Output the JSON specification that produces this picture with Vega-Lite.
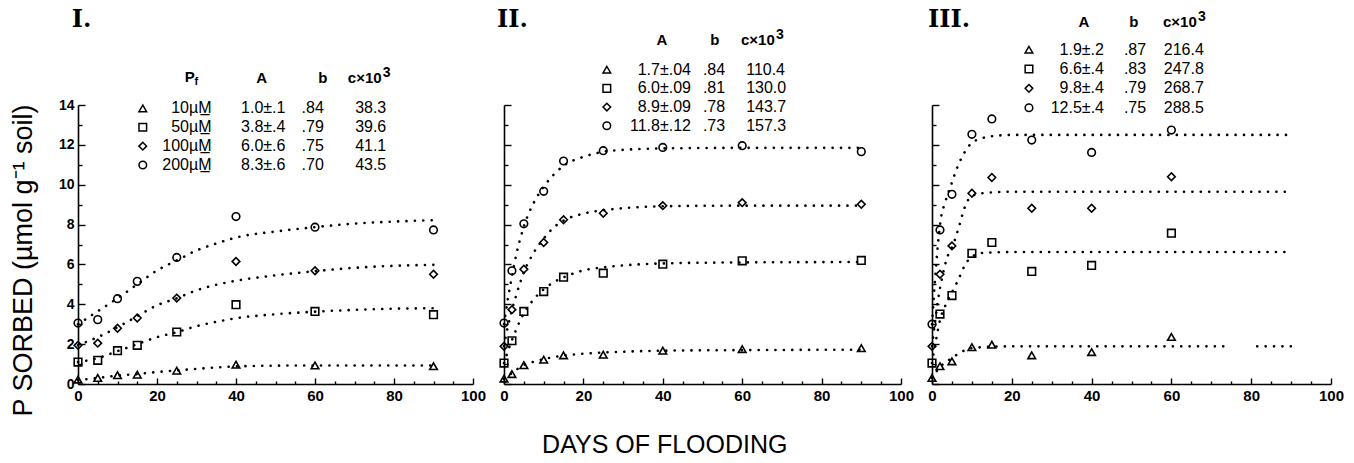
{
  "$schema": "https://vega.github.io/schema/vega-lite/v6.json",
  "padding": {"left": 8, "top": 7, "right": 5, "bottom": 5},
  "background": "white",
  "bounds": "flush",
  "spacing": 31,
  "config": {
    "view": {"stroke": null},
    "axis": {"domainColor": "black", "domainWidth": 1.6, "tickColor": "black", "tickWidth": 1.4, "labelColor": "black", "grid": false, "labelFlush": false, "labelOverlap": false, "labelFont": "Liberation Sans Narrow, Liberation Sans", "labelFontWeight": "bold"}
  },
  "datasets": {
    "pts": [
      {"panel":"I","s":"c","day":0,"v":3.06},{"panel":"I","s":"c","day":5,"v":3.23},{"panel":"I","s":"c","day":10,"v":4.28},{"panel":"I","s":"c","day":15,"v":5.15},{"panel":"I","s":"c","day":25,"v":6.35},{"panel":"I","s":"c","day":40,"v":8.4},{"panel":"I","s":"c","day":60,"v":7.87},{"panel":"I","s":"c","day":90,"v":7.73},
      {"panel":"I","s":"d","day":0,"v":1.94},{"panel":"I","s":"d","day":5,"v":2.05},{"panel":"I","s":"d","day":10,"v":2.8},{"panel":"I","s":"d","day":15,"v":3.31},{"panel":"I","s":"d","day":25,"v":4.31},{"panel":"I","s":"d","day":40,"v":6.15},{"panel":"I","s":"d","day":60,"v":5.68},{"panel":"I","s":"d","day":90,"v":5.51},
      {"panel":"I","s":"s","day":0,"v":1.1},{"panel":"I","s":"s","day":5,"v":1.19},{"panel":"I","s":"s","day":10,"v":1.67},{"panel":"I","s":"s","day":15,"v":1.94},{"panel":"I","s":"s","day":25,"v":2.61},{"panel":"I","s":"s","day":40,"v":3.98},{"panel":"I","s":"s","day":60,"v":3.64},{"panel":"I","s":"s","day":90,"v":3.48},
      {"panel":"I","s":"t","day":0,"v":0.22},{"panel":"I","s":"t","day":5,"v":0.3},{"panel":"I","s":"t","day":10,"v":0.44},{"panel":"I","s":"t","day":15,"v":0.47},{"panel":"I","s":"t","day":25,"v":0.67},{"panel":"I","s":"t","day":40,"v":0.97},{"panel":"I","s":"t","day":60,"v":0.93},{"panel":"I","s":"t","day":90,"v":0.89},
      {"panel":"II","s":"c","day":0,"v":3.06},{"panel":"II","s":"c","day":2,"v":5.68},{"panel":"II","s":"c","day":5,"v":8.04},{"panel":"II","s":"c","day":10,"v":9.67},{"panel":"II","s":"c","day":15,"v":11.19},{"panel":"II","s":"c","day":25,"v":11.71},{"panel":"II","s":"c","day":40,"v":11.87},{"panel":"II","s":"c","day":60,"v":11.96},{"panel":"II","s":"c","day":90,"v":11.66},
      {"panel":"II","s":"d","day":0,"v":1.89},{"panel":"II","s":"d","day":2,"v":3.73},{"panel":"II","s":"d","day":5,"v":5.76},{"panel":"II","s":"d","day":10,"v":7.1},{"panel":"II","s":"d","day":15,"v":8.24},{"panel":"II","s":"d","day":25,"v":8.57},{"panel":"II","s":"d","day":40,"v":8.95},{"panel":"II","s":"d","day":60,"v":9.1},{"panel":"II","s":"d","day":90,"v":9.02},
      {"panel":"II","s":"s","day":0,"v":1.05},{"panel":"II","s":"s","day":2,"v":2.17},{"panel":"II","s":"s","day":5,"v":3.64},{"panel":"II","s":"s","day":10,"v":4.64},{"panel":"II","s":"s","day":15,"v":5.36},{"panel":"II","s":"s","day":25,"v":5.56},{"panel":"II","s":"s","day":40,"v":6.01},{"panel":"II","s":"s","day":60,"v":6.18},{"panel":"II","s":"s","day":90,"v":6.2},
      {"panel":"II","s":"t","day":0,"v":0.27},{"panel":"II","s":"t","day":2,"v":0.5},{"panel":"II","s":"t","day":5,"v":0.94},{"panel":"II","s":"t","day":10,"v":1.22},{"panel":"II","s":"t","day":15,"v":1.44},{"panel":"II","s":"t","day":25,"v":1.47},{"panel":"II","s":"t","day":40,"v":1.67},{"panel":"II","s":"t","day":60,"v":1.75},{"panel":"II","s":"t","day":90,"v":1.8},
      {"panel":"III","s":"c","day":0,"v":3.0},{"panel":"III","s":"c","day":2,"v":7.73},{"panel":"III","s":"c","day":5,"v":9.52},{"panel":"III","s":"c","day":10,"v":12.53},{"panel":"III","s":"c","day":15,"v":13.3},{"panel":"III","s":"c","day":25,"v":12.24},{"panel":"III","s":"c","day":40,"v":11.62},{"panel":"III","s":"c","day":60,"v":12.74},
      {"panel":"III","s":"d","day":0,"v":1.89},{"panel":"III","s":"d","day":2,"v":5.51},{"panel":"III","s":"d","day":5,"v":6.93},{"panel":"III","s":"d","day":10,"v":9.57},{"panel":"III","s":"d","day":15,"v":10.36},{"panel":"III","s":"d","day":25,"v":8.82},{"panel":"III","s":"d","day":40,"v":8.82},{"panel":"III","s":"d","day":60,"v":10.4},
      {"panel":"III","s":"s","day":0,"v":1.05},{"panel":"III","s":"s","day":2,"v":3.51},{"panel":"III","s":"s","day":5,"v":4.44},{"panel":"III","s":"s","day":10,"v":6.56},{"panel":"III","s":"s","day":15,"v":7.1},{"panel":"III","s":"s","day":25,"v":5.65},{"panel":"III","s":"s","day":40,"v":5.95},{"panel":"III","s":"s","day":60,"v":7.57},
      {"panel":"III","s":"t","day":0,"v":0.3},{"panel":"III","s":"t","day":2,"v":0.89},{"panel":"III","s":"t","day":5,"v":1.14},{"panel":"III","s":"t","day":10,"v":1.85},{"panel":"III","s":"t","day":15,"v":1.97},{"panel":"III","s":"t","day":25,"v":1.44},{"panel":"III","s":"t","day":40,"v":1.6},{"panel":"III","s":"t","day":60,"v":2.36}
    ],
    "fit": [
      {"panel":"I","s":"c","g":1,"day":0,"v":3.0},{"panel":"I","s":"c","g":1,"day":5,"v":3.65},{"panel":"I","s":"c","g":1,"day":10,"v":4.3},{"panel":"I","s":"c","g":1,"day":15,"v":5.0},{"panel":"I","s":"c","g":1,"day":20,"v":5.7},{"panel":"I","s":"c","g":1,"day":25,"v":6.2},{"panel":"I","s":"c","g":1,"day":30,"v":6.7},{"panel":"I","s":"c","g":1,"day":35,"v":7.05},{"panel":"I","s":"c","g":1,"day":40,"v":7.35},{"panel":"I","s":"c","g":1,"day":50,"v":7.65},{"panel":"I","s":"c","g":1,"day":60,"v":7.87},{"panel":"I","s":"c","g":1,"day":70,"v":8.05},{"panel":"I","s":"c","g":1,"day":80,"v":8.15},{"panel":"I","s":"c","g":1,"day":90,"v":8.22},
      {"panel":"I","s":"d","g":1,"day":0,"v":1.95},{"panel":"I","s":"d","g":1,"day":5,"v":2.35},{"panel":"I","s":"d","g":1,"day":10,"v":2.85},{"panel":"I","s":"d","g":1,"day":15,"v":3.4},{"panel":"I","s":"d","g":1,"day":20,"v":3.95},{"panel":"I","s":"d","g":1,"day":25,"v":4.3},{"panel":"I","s":"d","g":1,"day":30,"v":4.7},{"panel":"I","s":"d","g":1,"day":35,"v":4.98},{"panel":"I","s":"d","g":1,"day":40,"v":5.18},{"panel":"I","s":"d","g":1,"day":50,"v":5.45},{"panel":"I","s":"d","g":1,"day":60,"v":5.66},{"panel":"I","s":"d","g":1,"day":70,"v":5.83},{"panel":"I","s":"d","g":1,"day":80,"v":5.93},{"panel":"I","s":"d","g":1,"day":90,"v":5.98},
      {"panel":"I","s":"s","g":1,"day":0,"v":1.1},{"panel":"I","s":"s","g":1,"day":5,"v":1.3},{"panel":"I","s":"s","g":1,"day":10,"v":1.65},{"panel":"I","s":"s","g":1,"day":15,"v":2.0},{"panel":"I","s":"s","g":1,"day":20,"v":2.35},{"panel":"I","s":"s","g":1,"day":25,"v":2.6},{"panel":"I","s":"s","g":1,"day":30,"v":2.9},{"panel":"I","s":"s","g":1,"day":35,"v":3.12},{"panel":"I","s":"s","g":1,"day":40,"v":3.3},{"panel":"I","s":"s","g":1,"day":50,"v":3.5},{"panel":"I","s":"s","g":1,"day":60,"v":3.63},{"panel":"I","s":"s","g":1,"day":70,"v":3.72},{"panel":"I","s":"s","g":1,"day":80,"v":3.78},{"panel":"I","s":"s","g":1,"day":90,"v":3.8},
      {"panel":"I","s":"t","g":1,"day":0,"v":0.2},{"panel":"I","s":"t","g":1,"day":5,"v":0.3},{"panel":"I","s":"t","g":1,"day":10,"v":0.42},{"panel":"I","s":"t","g":1,"day":15,"v":0.5},{"panel":"I","s":"t","g":1,"day":20,"v":0.6},{"panel":"I","s":"t","g":1,"day":25,"v":0.68},{"panel":"I","s":"t","g":1,"day":30,"v":0.76},{"panel":"I","s":"t","g":1,"day":40,"v":0.88},{"panel":"I","s":"t","g":1,"day":50,"v":0.92},{"panel":"I","s":"t","g":1,"day":60,"v":0.93},{"panel":"I","s":"t","g":1,"day":90,"v":0.93},
      {"panel":"II","s":"c","g":1,"day":0,"v":3.0},{"panel":"II","s":"c","g":1,"day":1,"v":4.3},{"panel":"II","s":"c","g":1,"day":2,"v":5.4},{"panel":"II","s":"c","g":1,"day":3,"v":6.4},{"panel":"II","s":"c","g":1,"day":5,"v":7.9},{"panel":"II","s":"c","g":1,"day":7.5,"v":9.1},{"panel":"II","s":"c","g":1,"day":10,"v":9.9},{"panel":"II","s":"c","g":1,"day":12.5,"v":10.5},{"panel":"II","s":"c","g":1,"day":15,"v":10.95},{"panel":"II","s":"c","g":1,"day":20,"v":11.4},{"panel":"II","s":"c","g":1,"day":25,"v":11.65},{"panel":"II","s":"c","g":1,"day":30,"v":11.75},{"panel":"II","s":"c","g":1,"day":40,"v":11.82},{"panel":"II","s":"c","g":1,"day":60,"v":11.85},{"panel":"II","s":"c","g":1,"day":90,"v":11.85},
      {"panel":"II","s":"d","g":1,"day":0,"v":1.9},{"panel":"II","s":"d","g":1,"day":1,"v":2.9},{"panel":"II","s":"d","g":1,"day":2,"v":3.7},{"panel":"II","s":"d","g":1,"day":3,"v":4.4},{"panel":"II","s":"d","g":1,"day":5,"v":5.6},{"panel":"II","s":"d","g":1,"day":7.5,"v":6.6},{"panel":"II","s":"d","g":1,"day":10,"v":7.3},{"panel":"II","s":"d","g":1,"day":12.5,"v":7.85},{"panel":"II","s":"d","g":1,"day":15,"v":8.2},{"panel":"II","s":"d","g":1,"day":20,"v":8.55},{"panel":"II","s":"d","g":1,"day":25,"v":8.72},{"panel":"II","s":"d","g":1,"day":30,"v":8.82},{"panel":"II","s":"d","g":1,"day":40,"v":8.92},{"panel":"II","s":"d","g":1,"day":60,"v":8.95},{"panel":"II","s":"d","g":1,"day":90,"v":8.95},
      {"panel":"II","s":"s","g":1,"day":0,"v":1.05},{"panel":"II","s":"s","g":1,"day":1,"v":1.65},{"panel":"II","s":"s","g":1,"day":2,"v":2.2},{"panel":"II","s":"s","g":1,"day":3,"v":2.7},{"panel":"II","s":"s","g":1,"day":5,"v":3.55},{"panel":"II","s":"s","g":1,"day":7.5,"v":4.25},{"panel":"II","s":"s","g":1,"day":10,"v":4.75},{"panel":"II","s":"s","g":1,"day":12.5,"v":5.1},{"panel":"II","s":"s","g":1,"day":15,"v":5.35},{"panel":"II","s":"s","g":1,"day":20,"v":5.7},{"panel":"II","s":"s","g":1,"day":25,"v":5.85},{"panel":"II","s":"s","g":1,"day":30,"v":5.95},{"panel":"II","s":"s","g":1,"day":40,"v":6.05},{"panel":"II","s":"s","g":1,"day":60,"v":6.1},{"panel":"II","s":"s","g":1,"day":90,"v":6.12},
      {"panel":"II","s":"t","g":1,"day":0,"v":0.25},{"panel":"II","s":"t","g":1,"day":2,"v":0.55},{"panel":"II","s":"t","g":1,"day":5,"v":0.95},{"panel":"II","s":"t","g":1,"day":7.5,"v":1.12},{"panel":"II","s":"t","g":1,"day":10,"v":1.25},{"panel":"II","s":"t","g":1,"day":15,"v":1.42},{"panel":"II","s":"t","g":1,"day":20,"v":1.52},{"panel":"II","s":"t","g":1,"day":25,"v":1.58},{"panel":"II","s":"t","g":1,"day":30,"v":1.62},{"panel":"II","s":"t","g":1,"day":40,"v":1.67},{"panel":"II","s":"t","g":1,"day":60,"v":1.7},{"panel":"II","s":"t","g":1,"day":90,"v":1.72},
      {"panel":"III","s":"c","g":1,"day":0,"v":3.0},{"panel":"III","s":"c","g":1,"day":0.6,"v":4.8},{"panel":"III","s":"c","g":1,"day":1.25,"v":6.5},{"panel":"III","s":"c","g":1,"day":2.4,"v":8.5},{"panel":"III","s":"c","g":1,"day":3.1,"v":9.0},{"panel":"III","s":"c","g":1,"day":4.8,"v":10.0},{"panel":"III","s":"c","g":1,"day":6.4,"v":10.9},{"panel":"III","s":"c","g":1,"day":8.1,"v":11.6},{"panel":"III","s":"c","g":1,"day":10,"v":12.1},{"panel":"III","s":"c","g":1,"day":14,"v":12.4},{"panel":"III","s":"c","g":1,"day":20,"v":12.5},{"panel":"III","s":"c","g":1,"day":90,"v":12.5},
      {"panel":"III","s":"d","g":1,"day":0,"v":1.9},{"panel":"III","s":"d","g":1,"day":0.7,"v":3.0},{"panel":"III","s":"d","g":1,"day":1.5,"v":4.2},{"panel":"III","s":"d","g":1,"day":2.5,"v":5.3},{"panel":"III","s":"d","g":1,"day":3.5,"v":6.15},{"panel":"III","s":"d","g":1,"day":5.6,"v":7.15},{"panel":"III","s":"d","g":1,"day":6.9,"v":7.98},{"panel":"III","s":"d","g":1,"day":8.1,"v":8.8},{"panel":"III","s":"d","g":1,"day":10,"v":9.45},{"panel":"III","s":"d","g":1,"day":14,"v":9.6},{"panel":"III","s":"d","g":1,"day":20,"v":9.65},{"panel":"III","s":"d","g":1,"day":90,"v":9.65},
      {"panel":"III","s":"s","g":1,"day":0,"v":1.05},{"panel":"III","s":"s","g":1,"day":1,"v":2.2},{"panel":"III","s":"s","g":1,"day":2,"v":3.2},{"panel":"III","s":"s","g":1,"day":3.5,"v":4.0},{"panel":"III","s":"s","g":1,"day":5,"v":4.6},{"panel":"III","s":"s","g":1,"day":6.4,"v":5.15},{"panel":"III","s":"s","g":1,"day":8.1,"v":5.9},{"panel":"III","s":"s","g":1,"day":10,"v":6.4},{"panel":"III","s":"s","g":1,"day":13,"v":6.58},{"panel":"III","s":"s","g":1,"day":20,"v":6.62},{"panel":"III","s":"s","g":1,"day":90,"v":6.62},
      {"panel":"III","s":"t","g":1,"day":0,"v":0.3},{"panel":"III","s":"t","g":1,"day":2,"v":0.85},{"panel":"III","s":"t","g":1,"day":5,"v":1.3},{"panel":"III","s":"t","g":1,"day":7.5,"v":1.62},{"panel":"III","s":"t","g":1,"day":10,"v":1.8},{"panel":"III","s":"t","g":1,"day":15,"v":1.87},{"panel":"III","s":"t","g":1,"day":20,"v":1.89},{"panel":"III","s":"t","g":1,"day":74.5,"v":1.89},
      {"panel":"III","s":"t","g":2,"day":81.5,"v":1.89},{"panel":"III","s":"t","g":2,"day":90,"v":1.89}
    ],
    "tbl": [
      {"panel":"I","s":"t","pf":"10µM̲","A":"1.0±.1","b":".84","c":"38.3"},
      {"panel":"I","s":"s","pf":"50µM̲","A":"3.8±.4","b":".79","c":"39.6"},
      {"panel":"I","s":"d","pf":"100µM̲","A":"6.0±.6","b":".75","c":"41.1"},
      {"panel":"I","s":"c","pf":"200µM̲","A":"8.3±.6","b":".70","c":"43.5"},
      {"panel":"II","s":"t","A":"1.7±.04","b":".84","c":"110.4"},
      {"panel":"II","s":"s","A":"6.0±.09","b":".81","c":"130.0"},
      {"panel":"II","s":"d","A":"8.9±.09","b":".78","c":"143.7"},
      {"panel":"II","s":"c","A":"11.8±.12","b":".73","c":"157.3"},
      {"panel":"III","s":"t","A":"1.9±.2","b":".87","c":"216.4"},
      {"panel":"III","s":"s","A":"6.6±.4","b":".83","c":"247.8"},
      {"panel":"III","s":"d","A":"9.8±.4","b":".79","c":"268.7"},
      {"panel":"III","s":"c","A":"12.5±.4","b":".75","c":"288.5"}
    ],
    "hdr": [
      {"panel":"I","col":"n","t":"I."},{"panel":"I","col":"P","t":"P"},{"panel":"I","col":"f","t":"f"},{"panel":"I","col":"A","t":"A"},{"panel":"I","col":"b","t":"b"},{"panel":"I","col":"c","t":"c×10"},{"panel":"I","col":"e","t":"3"},
      {"panel":"II","col":"n","t":"II."},{"panel":"II","col":"A","t":"A"},{"panel":"II","col":"b","t":"b"},{"panel":"II","col":"c","t":"c×10"},{"panel":"II","col":"e","t":"3"},{"panel":"II","col":"x","t":"DAYS OF FLOODING"},
      {"panel":"III","col":"n","t":"III."},{"panel":"III","col":"A","t":"A"},{"panel":"III","col":"b","t":"b"},{"panel":"III","col":"c","t":"c×10"},{"panel":"III","col":"e","t":"3"}
    ]
  },
  "hconcat": [
    {
      "width": 395, "height": 279,
      "resolve": {"scale": {"x": "independent", "y": "independent"}},
      "layer": [
        {"data": {"name": "fit"}, "transform": [{"filter": "datum.panel === 'I'"}],
         "mark": {"type": "line", "interpolate": "monotone", "strokeDash": [0.1, 8.3], "strokeCap": "round", "strokeWidth": 2.6, "color": "black"},
         "encoding": {
           "x": {"field": "day", "type": "quantitative", "scale": {"domain": [0, 100], "nice": false},
                 "axis": {"orient": "bottom", "values": [0,5,10,15,20,25,30,35,40,45,50,55,60,65,70,75,80,85,90,95,100], "tickSize": {"condition": {"test": "datum.value % 20 === 0", "value": -6}, "value": -3}, "labelExpr": "datum.value % 20 === 0 ? datum.label : ''", "labelFontSize": 15, "labelPadding": 10, "title": null}},
           "y": {"field": "v", "type": "quantitative", "scale": {"domain": [0, 14], "nice": false},
                 "axis": {"orient": "left", "values": [0,1,2,3,4,5,6,7,8,9,10,11,12,13,14], "tickSize": {"condition": {"test": "datum.value % 2 === 0", "value": -7}, "value": -4}, "labelExpr": "datum.value % 2 === 0 ? datum.label : ''", "labelFontSize": 14, "labelPadding": 11,
                          "title": "P  SORBED (µmol g⁻¹ soil)", "titleFont": "Liberation Sans", "titleFontSize": 27, "titleFontWeight": "normal", "titleColor": "black", "titleX": -47, "titleY": 155, "titleAlign": "center", "titleBaseline": "alphabetic", "titleAngle": 270}},
           "detail": [{"field": "s", "type": "nominal"}, {"field": "g", "type": "nominal"}]
         }},
        {"data": {"name": "pts"}, "transform": [{"filter": "datum.panel === 'I'"}],
         "mark": {"type": "point", "filled": false, "strokeWidth": 1.6, "color": "black", "opacity": 1},
         "encoding": {
           "x": {"field": "day", "type": "quantitative", "scale": {"domain": [0, 100], "nice": false}, "axis": null},
           "y": {"field": "v", "type": "quantitative", "scale": {"domain": [0, 14], "nice": false}, "axis": null},
           "shape": {"field": "s", "type": "nominal", "scale": {"domain": ["t","s","d","c"], "range": ["triangle-up","square","diamond","circle"]}, "legend": null},
           "size": {"field": "s", "type": "nominal", "scale": {"domain": ["t","s","d","c"], "range": [58,58,72,46]}, "legend": null}
         }},
        {"data": {"name": "tbl"}, "transform": [{"filter": "datum.panel === 'I'"}],
         "mark": {"type": "point", "filled": false, "strokeWidth": 1.5, "color": "black", "opacity": 1},
         "encoding": {
           "x": {"datum": 16.4, "type": "quantitative", "scale": {"domain": [0, 100], "nice": false}, "axis": null},
           "y": {"field": "s", "type": "ordinal", "scale": {"type": "point", "domain": ["t","s","d","c"], "range": [3.4, 60], "padding": 0}, "axis": null},
           "shape": {"field": "s", "type": "nominal", "scale": {"domain": ["t","s","d","c"], "range": ["triangle-up","square","diamond","circle"]}, "legend": null},
           "size": {"field": "s", "type": "nominal", "scale": {"domain": ["t","s","d","c"], "range": [58,58,72,46]}, "legend": null}
         }},
        {"data": {"name": "tbl"}, "transform": [{"filter": "datum.panel === 'I'"}],
         "mark": {"type": "text", "font": "Liberation Sans", "fontSize": 16, "align": "right", "baseline": "middle", "color": "black"},
         "encoding": {
           "x": {"datum": 33.8, "type": "quantitative", "scale": {"domain": [0, 100], "nice": false}, "axis": null},
           "y": {"field": "s", "type": "ordinal", "scale": {"type": "point", "domain": ["t","s","d","c"], "range": [3.4, 60], "padding": 0}, "axis": null},
           "text": {"field": "pf"}
         }},
        {"data": {"name": "tbl"}, "transform": [{"filter": "datum.panel === 'I'"}],
         "mark": {"type": "text", "font": "Liberation Sans", "fontSize": 16, "align": "center", "baseline": "middle", "color": "black"},
         "encoding": {
           "x": {"datum": 46.9, "type": "quantitative", "scale": {"domain": [0, 100], "nice": false}, "axis": null},
           "y": {"field": "s", "type": "ordinal", "scale": {"type": "point", "domain": ["t","s","d","c"], "range": [3.4, 60], "padding": 0}, "axis": null},
           "text": {"field": "A"}
         }},
        {"data": {"name": "tbl"}, "transform": [{"filter": "datum.panel === 'I'"}],
         "mark": {"type": "text", "font": "Liberation Sans", "fontSize": 16, "align": "left", "baseline": "middle", "color": "black"},
         "encoding": {
           "x": {"datum": 56.6, "type": "quantitative", "scale": {"domain": [0, 100], "nice": false}, "axis": null},
           "y": {"field": "s", "type": "ordinal", "scale": {"type": "point", "domain": ["t","s","d","c"], "range": [3.4, 60], "padding": 0}, "axis": null},
           "text": {"field": "b"}
         }},
        {"data": {"name": "tbl"}, "transform": [{"filter": "datum.panel === 'I'"}],
         "mark": {"type": "text", "font": "Liberation Sans", "fontSize": 16, "align": "center", "baseline": "middle", "color": "black"},
         "encoding": {
           "x": {"datum": 74.1, "type": "quantitative", "scale": {"domain": [0, 100], "nice": false}, "axis": null},
           "y": {"field": "s", "type": "ordinal", "scale": {"type": "point", "domain": ["t","s","d","c"], "range": [3.4, 60], "padding": 0}, "axis": null},
           "text": {"field": "c"}
         }},
        {"data": {"name": "hdr"}, "transform": [{"filter": "datum.panel === 'I' && datum.col === 'n'"}],
         "mark": {"type": "text", "font": "DejaVu Serif", "fontSize": 24, "fontWeight": "bold", "align": "left", "baseline": "alphabetic", "color": "black"},
         "encoding": {
           "x": {"datum": -1.6, "type": "quantitative", "scale": {"domain": [0, 100], "nice": false}, "axis": null},
           "y": {"datum": 17.92, "type": "quantitative", "scale": {"domain": [0, 14], "nice": false}, "axis": null},
           "text": {"field": "t"}
         }},
        {"data": {"name": "hdr"}, "transform": [{"filter": "datum.panel === 'I' && datum.col === 'P'"}],
         "mark": {"type": "text", "font": "Liberation Sans", "fontSize": 15, "fontWeight": "bold", "align": "left", "baseline": "middle", "color": "black"},
         "encoding": {
           "x": {"datum": 27.0, "type": "quantitative", "scale": {"domain": [0, 100], "nice": false}, "axis": null},
           "y": {"datum": 15.4, "type": "quantitative", "scale": {"domain": [0, 14], "nice": false}, "axis": null},
           "text": {"field": "t"}
         }},
        {"data": {"name": "hdr"}, "transform": [{"filter": "datum.panel === 'I' && datum.col === 'f'"}],
         "mark": {"type": "text", "font": "Liberation Sans", "fontSize": 11, "fontWeight": "bold", "align": "left", "baseline": "middle", "color": "black"},
         "encoding": {
           "x": {"datum": 29.5, "type": "quantitative", "scale": {"domain": [0, 100], "nice": false}, "axis": null},
           "y": {"datum": 15.15, "type": "quantitative", "scale": {"domain": [0, 14], "nice": false}, "axis": null},
           "text": {"field": "t"}
         }},
        {"data": {"name": "hdr"}, "transform": [{"filter": "datum.panel === 'I' && datum.col === 'A'"}],
         "mark": {"type": "text", "font": "Liberation Sans", "fontSize": 15, "fontWeight": "bold", "align": "center", "baseline": "middle", "color": "black"},
         "encoding": {
           "x": {"datum": 46.5, "type": "quantitative", "scale": {"domain": [0, 100], "nice": false}, "axis": null},
           "y": {"datum": 15.33, "type": "quantitative", "scale": {"domain": [0, 14], "nice": false}, "axis": null},
           "text": {"field": "t"}
         }},
        {"data": {"name": "hdr"}, "transform": [{"filter": "datum.panel === 'I' && datum.col === 'b'"}],
         "mark": {"type": "text", "font": "Liberation Sans", "fontSize": 15, "fontWeight": "bold", "align": "center", "baseline": "middle", "color": "black"},
         "encoding": {
           "x": {"datum": 62.0, "type": "quantitative", "scale": {"domain": [0, 100], "nice": false}, "axis": null},
           "y": {"datum": 15.33, "type": "quantitative", "scale": {"domain": [0, 14], "nice": false}, "axis": null},
           "text": {"field": "t"}
         }},
        {"data": {"name": "hdr"}, "transform": [{"filter": "datum.panel === 'I' && datum.col === 'c'"}],
         "mark": {"type": "text", "font": "Liberation Sans", "fontSize": 15, "fontWeight": "bold", "align": "left", "baseline": "middle", "color": "black"},
         "encoding": {
           "x": {"datum": 68.3, "type": "quantitative", "scale": {"domain": [0, 100], "nice": false}, "axis": null},
           "y": {"datum": 15.33, "type": "quantitative", "scale": {"domain": [0, 14], "nice": false}, "axis": null},
           "text": {"field": "t"}
         }},
        {"data": {"name": "hdr"}, "transform": [{"filter": "datum.panel === 'I' && datum.col === 'e'"}],
         "mark": {"type": "text", "font": "Liberation Sans", "fontSize": 14, "fontWeight": "bold", "align": "left", "baseline": "middle", "color": "black", "dx": 35, "dy": -5},
         "encoding": {
           "x": {"datum": 68.3, "type": "quantitative", "scale": {"domain": [0, 100], "nice": false}, "axis": null},
           "y": {"datum": 15.33, "type": "quantitative", "scale": {"domain": [0, 14], "nice": false}, "axis": null},
           "text": {"field": "t"}
         }}
      ]
    },
    {
      "width": 397, "height": 279,
      "resolve": {"scale": {"x": "independent", "y": "independent"}},
      "layer": [
        {"data": {"name": "fit"}, "transform": [{"filter": "datum.panel === 'II'"}],
         "mark": {"type": "line", "interpolate": "monotone", "strokeDash": [0.1, 8.3], "strokeCap": "round", "strokeWidth": 2.6, "color": "black"},
         "encoding": {
           "x": {"field": "day", "type": "quantitative", "scale": {"domain": [0, 100], "nice": false},
                 "axis": {"orient": "bottom", "values": [0,5,10,15,20,25,30,35,40,45,50,55,60,65,70,75,80,85,90,95,100], "tickSize": {"condition": {"test": "datum.value % 20 === 0", "value": -6}, "value": -3}, "labelExpr": "datum.value % 20 === 0 ? datum.label : ''", "labelFontSize": 15, "labelPadding": 10, "title": null}},
           "y": {"field": "v", "type": "quantitative", "scale": {"domain": [0, 14], "nice": false},
                 "axis": {"orient": "left", "values": [0,1,2,3,4,5,6,7,8,9,10,11,12,13,14], "tickSize": {"condition": {"test": "datum.value % 2 === 0", "value": -7}, "value": -4}, "labels": false, "title": null}},
           "detail": [{"field": "s", "type": "nominal"}, {"field": "g", "type": "nominal"}]
         }},
        {"data": {"name": "pts"}, "transform": [{"filter": "datum.panel === 'II'"}],
         "mark": {"type": "point", "filled": false, "strokeWidth": 1.6, "color": "black", "opacity": 1},
         "encoding": {
           "x": {"field": "day", "type": "quantitative", "scale": {"domain": [0, 100], "nice": false}, "axis": null},
           "y": {"field": "v", "type": "quantitative", "scale": {"domain": [0, 14], "nice": false}, "axis": null},
           "shape": {"field": "s", "type": "nominal", "scale": {"domain": ["t","s","d","c"], "range": ["triangle-up","square","diamond","circle"]}, "legend": null},
           "size": {"field": "s", "type": "nominal", "scale": {"domain": ["t","s","d","c"], "range": [58,58,72,46]}, "legend": null}
         }},
        {"data": {"name": "tbl"}, "transform": [{"filter": "datum.panel === 'II'"}],
         "mark": {"type": "point", "filled": false, "strokeWidth": 1.5, "color": "black", "opacity": 1},
         "encoding": {
           "x": {"datum": 25.9, "type": "quantitative", "scale": {"domain": [0, 100], "nice": false}, "axis": null},
           "y": {"field": "s", "type": "ordinal", "scale": {"type": "point", "domain": ["t","s","d","c"], "range": [-35.3, 20.7], "padding": 0}, "axis": null},
           "shape": {"field": "s", "type": "nominal", "scale": {"domain": ["t","s","d","c"], "range": ["triangle-up","square","diamond","circle"]}, "legend": null},
           "size": {"field": "s", "type": "nominal", "scale": {"domain": ["t","s","d","c"], "range": [58,58,72,46]}, "legend": null}
         }},
        {"data": {"name": "tbl"}, "transform": [{"filter": "datum.panel === 'II'"}],
         "mark": {"type": "text", "font": "Liberation Sans", "fontSize": 16, "align": "right", "baseline": "middle", "color": "black"},
         "encoding": {
           "x": {"datum": 47.1, "type": "quantitative", "scale": {"domain": [0, 100], "nice": false}, "axis": null},
           "y": {"field": "s", "type": "ordinal", "scale": {"type": "point", "domain": ["t","s","d","c"], "range": [-35.3, 20.7], "padding": 0}, "axis": null},
           "text": {"field": "A"}
         }},
        {"data": {"name": "tbl"}, "transform": [{"filter": "datum.panel === 'II'"}],
         "mark": {"type": "text", "font": "Liberation Sans", "fontSize": 16, "align": "left", "baseline": "middle", "color": "black"},
         "encoding": {
           "x": {"datum": 50.1, "type": "quantitative", "scale": {"domain": [0, 100], "nice": false}, "axis": null},
           "y": {"field": "s", "type": "ordinal", "scale": {"type": "point", "domain": ["t","s","d","c"], "range": [-35.3, 20.7], "padding": 0}, "axis": null},
           "text": {"field": "b"}
         }},
        {"data": {"name": "tbl"}, "transform": [{"filter": "datum.panel === 'II'"}],
         "mark": {"type": "text", "font": "Liberation Sans", "fontSize": 16, "align": "left", "baseline": "middle", "color": "black"},
         "encoding": {
           "x": {"datum": 61.0, "type": "quantitative", "scale": {"domain": [0, 100], "nice": false}, "axis": null},
           "y": {"field": "s", "type": "ordinal", "scale": {"type": "point", "domain": ["t","s","d","c"], "range": [-35.3, 20.7], "padding": 0}, "axis": null},
           "text": {"field": "c"}
         }},
        {"data": {"name": "hdr"}, "transform": [{"filter": "datum.panel === 'II' && datum.col === 'n'"}],
         "mark": {"type": "text", "font": "DejaVu Serif", "fontSize": 24, "fontWeight": "bold", "align": "left", "baseline": "alphabetic", "color": "black"},
         "encoding": {
           "x": {"datum": -1.76, "type": "quantitative", "scale": {"domain": [0, 100], "nice": false}, "axis": null},
           "y": {"datum": 17.92, "type": "quantitative", "scale": {"domain": [0, 14], "nice": false}, "axis": null},
           "text": {"field": "t"}
         }},
        {"data": {"name": "hdr"}, "transform": [{"filter": "datum.panel === 'II' && datum.col === 'x'"}],
         "mark": {"type": "text", "font": "Liberation Sans", "fontSize": 25, "align": "center", "baseline": "alphabetic", "color": "black"},
         "encoding": {
           "x": {"datum": 40.5, "type": "quantitative", "scale": {"domain": [0, 100], "nice": false}, "axis": null},
           "y": {"datum": -3.46, "type": "quantitative", "scale": {"domain": [0, 14], "nice": false}, "axis": null},
           "text": {"field": "t"}
         }},
        {"data": {"name": "hdr"}, "transform": [{"filter": "datum.panel === 'II' && datum.col === 'A'"}],
         "mark": {"type": "text", "font": "Liberation Sans", "fontSize": 15, "fontWeight": "bold", "align": "center", "baseline": "middle", "color": "black"},
         "encoding": {
           "x": {"datum": 39.8, "type": "quantitative", "scale": {"domain": [0, 100], "nice": false}, "axis": null},
           "y": {"datum": 17.27, "type": "quantitative", "scale": {"domain": [0, 14], "nice": false}, "axis": null},
           "text": {"field": "t"}
         }},
        {"data": {"name": "hdr"}, "transform": [{"filter": "datum.panel === 'II' && datum.col === 'b'"}],
         "mark": {"type": "text", "font": "Liberation Sans", "fontSize": 15, "fontWeight": "bold", "align": "center", "baseline": "middle", "color": "black"},
         "encoding": {
           "x": {"datum": 53.1, "type": "quantitative", "scale": {"domain": [0, 100], "nice": false}, "axis": null},
           "y": {"datum": 17.27, "type": "quantitative", "scale": {"domain": [0, 14], "nice": false}, "axis": null},
           "text": {"field": "t"}
         }},
        {"data": {"name": "hdr"}, "transform": [{"filter": "datum.panel === 'II' && datum.col === 'c'"}],
         "mark": {"type": "text", "font": "Liberation Sans", "fontSize": 15, "fontWeight": "bold", "align": "left", "baseline": "middle", "color": "black"},
         "encoding": {
           "x": {"datum": 59.7, "type": "quantitative", "scale": {"domain": [0, 100], "nice": false}, "axis": null},
           "y": {"datum": 17.27, "type": "quantitative", "scale": {"domain": [0, 14], "nice": false}, "axis": null},
           "text": {"field": "t"}
         }},
        {"data": {"name": "hdr"}, "transform": [{"filter": "datum.panel === 'II' && datum.col === 'e'"}],
         "mark": {"type": "text", "font": "Liberation Sans", "fontSize": 14, "fontWeight": "bold", "align": "left", "baseline": "middle", "color": "black", "dx": 35, "dy": -5},
         "encoding": {
           "x": {"datum": 59.7, "type": "quantitative", "scale": {"domain": [0, 100], "nice": false}, "axis": null},
           "y": {"datum": 17.27, "type": "quantitative", "scale": {"domain": [0, 14], "nice": false}, "axis": null},
           "text": {"field": "t"}
         }}
      ]
    },
    {
      "width": 399, "height": 279,
      "resolve": {"scale": {"x": "independent", "y": "independent"}},
      "layer": [
        {"data": {"name": "fit"}, "transform": [{"filter": "datum.panel === 'III'"}],
         "mark": {"type": "line", "interpolate": "monotone", "strokeDash": [0.1, 8.3], "strokeCap": "round", "strokeWidth": 2.6, "color": "black"},
         "encoding": {
           "x": {"field": "day", "type": "quantitative", "scale": {"domain": [0, 100], "nice": false},
                 "axis": {"orient": "bottom", "values": [0,5,10,15,20,25,30,35,40,45,50,55,60,65,70,75,80,85,90,95,100], "tickSize": {"condition": {"test": "datum.value % 20 === 0", "value": -6}, "value": -3}, "labelExpr": "datum.value % 20 === 0 ? datum.label : ''", "labelFontSize": 15, "labelPadding": 10, "title": null}},
           "y": {"field": "v", "type": "quantitative", "scale": {"domain": [0, 14], "nice": false},
                 "axis": {"orient": "left", "values": [0,1,2,3,4,5,6,7,8,9,10,11,12,13,14], "tickSize": {"condition": {"test": "datum.value % 2 === 0", "value": -7}, "value": -4}, "labels": false, "title": null}},
           "detail": [{"field": "s", "type": "nominal"}, {"field": "g", "type": "nominal"}]
         }},
        {"data": {"name": "pts"}, "transform": [{"filter": "datum.panel === 'III'"}],
         "mark": {"type": "point", "filled": false, "strokeWidth": 1.6, "color": "black", "opacity": 1},
         "encoding": {
           "x": {"field": "day", "type": "quantitative", "scale": {"domain": [0, 100], "nice": false}, "axis": null},
           "y": {"field": "v", "type": "quantitative", "scale": {"domain": [0, 14], "nice": false}, "axis": null},
           "shape": {"field": "s", "type": "nominal", "scale": {"domain": ["t","s","d","c"], "range": ["triangle-up","square","diamond","circle"]}, "legend": null},
           "size": {"field": "s", "type": "nominal", "scale": {"domain": ["t","s","d","c"], "range": [58,58,72,46]}, "legend": null}
         }},
        {"data": {"name": "tbl"}, "transform": [{"filter": "datum.panel === 'III'"}],
         "mark": {"type": "point", "filled": false, "strokeWidth": 1.5, "color": "black", "opacity": 1},
         "encoding": {
           "x": {"datum": 24.3, "type": "quantitative", "scale": {"domain": [0, 100], "nice": false}, "axis": null},
           "y": {"field": "s", "type": "ordinal", "scale": {"type": "point", "domain": ["t","s","d","c"], "range": [-55.3, 2.7], "padding": 0}, "axis": null},
           "shape": {"field": "s", "type": "nominal", "scale": {"domain": ["t","s","d","c"], "range": ["triangle-up","square","diamond","circle"]}, "legend": null},
           "size": {"field": "s", "type": "nominal", "scale": {"domain": ["t","s","d","c"], "range": [58,58,72,46]}, "legend": null}
         }},
        {"data": {"name": "tbl"}, "transform": [{"filter": "datum.panel === 'III'"}],
         "mark": {"type": "text", "font": "Liberation Sans", "fontSize": 16, "align": "right", "baseline": "middle", "color": "black"},
         "encoding": {
           "x": {"datum": 43.1, "type": "quantitative", "scale": {"domain": [0, 100], "nice": false}, "axis": null},
           "y": {"field": "s", "type": "ordinal", "scale": {"type": "point", "domain": ["t","s","d","c"], "range": [-55.3, 2.7], "padding": 0}, "axis": null},
           "text": {"field": "A"}
         }},
        {"data": {"name": "tbl"}, "transform": [{"filter": "datum.panel === 'III'"}],
         "mark": {"type": "text", "font": "Liberation Sans", "fontSize": 16, "align": "left", "baseline": "middle", "color": "black"},
         "encoding": {
           "x": {"datum": 48.1, "type": "quantitative", "scale": {"domain": [0, 100], "nice": false}, "axis": null},
           "y": {"field": "s", "type": "ordinal", "scale": {"type": "point", "domain": ["t","s","d","c"], "range": [-55.3, 2.7], "padding": 0}, "axis": null},
           "text": {"field": "b"}
         }},
        {"data": {"name": "tbl"}, "transform": [{"filter": "datum.panel === 'III'"}],
         "mark": {"type": "text", "font": "Liberation Sans", "fontSize": 16, "align": "left", "baseline": "middle", "color": "black"},
         "encoding": {
           "x": {"datum": 58.1, "type": "quantitative", "scale": {"domain": [0, 100], "nice": false}, "axis": null},
           "y": {"field": "s", "type": "ordinal", "scale": {"type": "point", "domain": ["t","s","d","c"], "range": [-55.3, 2.7], "padding": 0}, "axis": null},
           "text": {"field": "c"}
         }},
        {"data": {"name": "hdr"}, "transform": [{"filter": "datum.panel === 'III' && datum.col === 'n'"}],
         "mark": {"type": "text", "font": "DejaVu Serif", "fontSize": 24, "fontWeight": "bold", "align": "left", "baseline": "alphabetic", "color": "black"},
         "encoding": {
           "x": {"datum": -1.0, "type": "quantitative", "scale": {"domain": [0, 100], "nice": false}, "axis": null},
           "y": {"datum": 17.92, "type": "quantitative", "scale": {"domain": [0, 14], "nice": false}, "axis": null},
           "text": {"field": "t"}
         }},
        {"data": {"name": "hdr"}, "transform": [{"filter": "datum.panel === 'III' && datum.col === 'A'"}],
         "mark": {"type": "text", "font": "Liberation Sans", "fontSize": 15, "fontWeight": "bold", "align": "center", "baseline": "middle", "color": "black"},
         "encoding": {
           "x": {"datum": 38.1, "type": "quantitative", "scale": {"domain": [0, 100], "nice": false}, "axis": null},
           "y": {"datum": 18.17, "type": "quantitative", "scale": {"domain": [0, 14], "nice": false}, "axis": null},
           "text": {"field": "t"}
         }},
        {"data": {"name": "hdr"}, "transform": [{"filter": "datum.panel === 'III' && datum.col === 'b'"}],
         "mark": {"type": "text", "font": "Liberation Sans", "fontSize": 15, "fontWeight": "bold", "align": "center", "baseline": "middle", "color": "black"},
         "encoding": {
           "x": {"datum": 50.6, "type": "quantitative", "scale": {"domain": [0, 100], "nice": false}, "axis": null},
           "y": {"datum": 18.17, "type": "quantitative", "scale": {"domain": [0, 14], "nice": false}, "axis": null},
           "text": {"field": "t"}
         }},
        {"data": {"name": "hdr"}, "transform": [{"filter": "datum.panel === 'III' && datum.col === 'c'"}],
         "mark": {"type": "text", "font": "Liberation Sans", "fontSize": 15, "fontWeight": "bold", "align": "left", "baseline": "middle", "color": "black"},
         "encoding": {
           "x": {"datum": 57.9, "type": "quantitative", "scale": {"domain": [0, 100], "nice": false}, "axis": null},
           "y": {"datum": 18.17, "type": "quantitative", "scale": {"domain": [0, 14], "nice": false}, "axis": null},
           "text": {"field": "t"}
         }},
        {"data": {"name": "hdr"}, "transform": [{"filter": "datum.panel === 'III' && datum.col === 'e'"}],
         "mark": {"type": "text", "font": "Liberation Sans", "fontSize": 14, "fontWeight": "bold", "align": "left", "baseline": "middle", "color": "black", "dx": 35, "dy": -5},
         "encoding": {
           "x": {"datum": 57.9, "type": "quantitative", "scale": {"domain": [0, 100], "nice": false}, "axis": null},
           "y": {"datum": 18.17, "type": "quantitative", "scale": {"domain": [0, 14], "nice": false}, "axis": null},
           "text": {"field": "t"}
         }}
      ]
    }
  ]
}
